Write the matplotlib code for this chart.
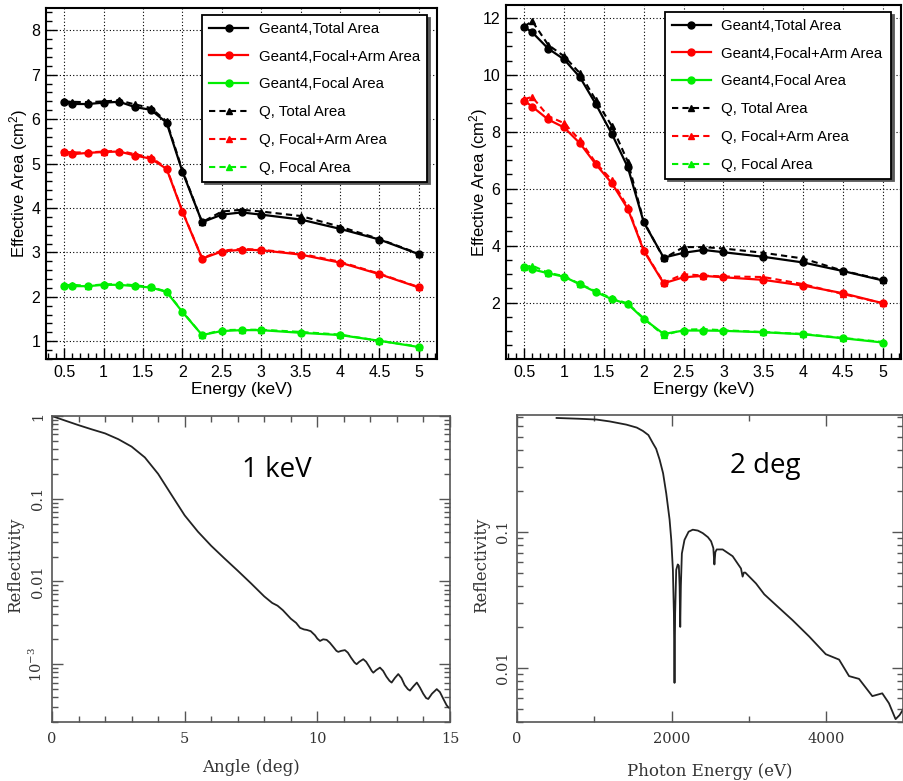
import numpy as np
import matplotlib
matplotlib.use("Agg")
import matplotlib.pyplot as plt
from matplotlib.ticker import MultipleLocator, LogLocator, NullFormatter

plt.rcParams['font.family'] = ['Liberation Sans', 'DejaVu Sans']
plt.rcParams['mathtext.default'] = 'regular'

# ---- effective area data (keV, cm^2) ----
energy = [0.5, 0.6, 0.8, 1.0, 1.2, 1.4, 1.6, 1.8, 2.0, 2.25, 2.5, 2.75, 3.0, 3.5, 4.0, 4.5, 5.0]

# left panel
tl_g4_total = [6.38, 6.34, 6.34, 6.37, 6.39, 6.27, 6.21, 5.92, 4.82, 3.68, 3.85, 3.90, 3.85, 3.74, 3.53, 3.29, 2.96]
tl_g4_arm = [5.25, 5.21, 5.24, 5.26, 5.27, 5.18, 5.11, 4.88, 3.92, 2.86, 3.02, 3.06, 3.05, 2.95, 2.77, 2.51, 2.21]
tl_g4_focal = [2.24, 2.24, 2.24, 2.27, 2.27, 2.24, 2.21, 2.11, 1.66, 1.14, 1.23, 1.25, 1.25, 1.19, 1.14, 1.01, 0.87]
tl_q_total = [6.40, 6.39, 6.38, 6.40, 6.42, 6.33, 6.25, 5.95, 4.85, 3.68, 3.92, 3.96, 3.92, 3.82, 3.58, 3.30, 2.97]
tl_q_arm = [5.27, 5.25, 5.25, 5.27, 5.29, 5.21, 5.14, 4.90, 3.93, 2.87, 3.04, 3.08, 3.06, 2.97, 2.79, 2.52, 2.22]
tl_q_focal = [2.26, 2.27, 2.25, 2.28, 2.29, 2.26, 2.22, 2.12, 1.67, 1.14, 1.25, 1.26, 1.26, 1.21, 1.15, 1.01, 0.88]

# right panel
tr_g4_total = [11.68, 11.49, 10.92, 10.54, 9.91, 8.96, 7.92, 6.75, 4.82, 3.58, 3.75, 3.85, 3.77, 3.61, 3.41, 3.11, 2.78]
tr_g4_arm = [9.09, 8.88, 8.43, 8.15, 7.59, 6.85, 6.19, 5.29, 3.82, 2.68, 2.89, 2.94, 2.89, 2.80, 2.60, 2.33, 1.98]
tr_g4_focal = [3.24, 3.17, 3.03, 2.91, 2.64, 2.37, 2.12, 1.95, 1.43, 0.90, 1.02, 1.02, 1.01, 0.96, 0.89, 0.75, 0.60]
tr_q_total = [11.70, 11.88, 11.05, 10.65, 10.05, 9.10, 8.20, 6.95, 4.85, 3.55, 3.95, 3.95, 3.90, 3.75, 3.55, 3.12, 2.80]
tr_q_arm = [9.15, 9.22, 8.55, 8.30, 7.70, 6.90, 6.30, 5.35, 3.85, 2.70, 3.00, 2.95, 2.92, 2.90, 2.65, 2.30, 1.98]
tr_q_focal = [3.25, 3.30, 3.05, 2.93, 2.65, 2.40, 2.15, 1.97, 1.45, 0.85, 1.05, 1.07, 1.03, 0.97, 0.90, 0.76, 0.62]

# ---- reflectivity at 1 keV vs angle ----
angle = [0, 0.5, 1, 1.5, 2, 2.5, 3, 3.5, 4, 4.5, 5, 5.5, 6, 6.5, 7, 7.5, 8, 8.3, 8.5, 8.7,
         9.0, 9.2, 9.35, 9.5, 9.6, 9.75, 9.91, 10.0, 10.1, 10.22, 10.35, 10.47, 10.6, 10.72,
         10.79, 10.9, 11.04, 11.15, 11.27, 11.4, 11.48, 11.58, 11.73, 11.84, 11.96, 12.05,
         12.11, 12.22, 12.36, 12.48, 12.6, 12.72, 12.8, 12.92, 13.05, 13.17, 13.29, 13.41,
         13.49, 13.62, 13.75, 13.87, 13.99, 14.1, 14.18, 14.32, 14.5, 14.62, 14.75, 14.87,
         14.94, 15.0]
refl_angle = [1.0, 0.88, 0.776, 0.69, 0.617, 0.525, 0.427, 0.316, 0.20, 0.112, 0.063, 0.040,
              0.027, 0.019, 0.0135, 0.0095, 0.0066, 0.0055, 0.0051, 0.0045,
              0.00355, 0.00316, 0.00275, 0.00263, 0.0026, 0.00251, 0.00224, 0.00204, 0.00191,
              0.00200, 0.00197, 0.00182, 0.00162, 0.00145,
              0.00141, 0.00145, 0.00148, 0.00138, 0.00120, 0.00105, 0.00100, 0.00107, 0.00115,
              0.00107, 0.00093, 0.00083,
              0.00079, 0.00085, 0.00091, 0.00083, 0.00071, 0.00063, 0.00060, 0.00068, 0.00076,
              0.00068, 0.00056, 0.00050,
              0.00048, 0.00054, 0.00060, 0.00052, 0.00044, 0.00039, 0.00038, 0.00044, 0.00050,
              0.00046, 0.00038, 0.00032,
              0.00030, 0.000295]

# ---- reflectivity at 2 deg vs photon energy ----
photon_ev = [512, 800, 1028, 1200, 1415, 1550, 1629, 1700, 1758, 1800, 1845, 1890, 1931, 1974,
             1996, 2017, 2030, 2038, 2046, 2060, 2080, 2094, 2104, 2112, 2120, 2133, 2167, 2220,
             2274, 2340, 2403, 2470, 2511, 2540, 2554, 2566, 2584, 2661, 2790, 2898, 2919, 2935,
             2954, 3092, 3199, 3393, 3565, 3780, 3995, 4167, 4296, 4425, 4597, 4726, 4812, 4898,
             4950, 5000]
refl_energy = [0.685, 0.676, 0.667, 0.646, 0.612, 0.582, 0.550, 0.513, 0.447, 0.407, 0.339,
               0.269, 0.191, 0.123, 0.0871, 0.0525, 0.0251, 0.00776, 0.0251, 0.0525, 0.0575,
               0.0562, 0.0398, 0.0200, 0.0398, 0.0692, 0.0871, 0.100, 0.1035, 0.102, 0.0977,
               0.0912, 0.0851, 0.0759, 0.0575, 0.0708, 0.0741, 0.0741, 0.0661, 0.0537, 0.0468,
               0.0501, 0.0501, 0.0417, 0.0347, 0.0275, 0.0224, 0.0170, 0.0126, 0.0115, 0.0087,
               0.0083, 0.0062, 0.0065, 0.0055, 0.0042, 0.0045, 0.0050]

names = ['Total Area', 'Focal+Arm Area', 'Focal Area']
colors = ['black', '#ff0000', '#00ee00']

fig = plt.figure(figsize=(9.04, 7.81), dpi=100)


def area_panel(ax, g4_sets, q_sets, ylim, ymajor, yminor, lab_x, legend_box):
    for vals, col, name in zip(g4_sets, colors, names):
        ax.plot(energy, vals, '-', color=col, lw=1.6, marker='o', ms=5, label='Geant4,' + name)
    for vals, col, name in zip(q_sets, colors, names):
        ax.plot(energy, vals, color=col, lw=1.5, ls=(0, (3, 2)), marker='^', ms=5,
                label='Q, ' + name)
    ax.set_xlim(0.27, 5.23)
    ax.set_ylim(*ylim)
    ax.xaxis.set_major_locator(MultipleLocator(0.5))
    ax.xaxis.set_minor_locator(MultipleLocator(0.1))
    ax.yaxis.set_major_locator(MultipleLocator(ymajor))
    ax.yaxis.set_minor_locator(MultipleLocator(yminor))
    ax.xaxis.set_major_formatter(lambda v, p: f'{v:g}')
    ax.tick_params(which='both', direction='in', labelsize=11.5, width=1)
    ax.tick_params(which='major', length=8, pad=4)
    ax.tick_params(which='minor', length=4)
    ax.grid(True, which='major', color='black', ls=(0, (1, 2)), lw=0.8)
    for s in ax.spines.values():
        s.set_linewidth(1.5)
    ax.set_xlabel('Energy (keV)', fontsize=12.5)
    ax.set_ylabel('Effective Area (cm$^{2}$)', fontsize=12)
    ax.xaxis.set_label_coords(0.5, -0.066)
    ax.yaxis.set_label_coords(lab_x, 0.5)
    leg = ax.legend(loc='upper left', bbox_to_anchor=legend_box, mode='expand',
                    borderaxespad=0, fontsize=10.8, frameon=True, fancybox=False,
                    edgecolor='black', framealpha=1, borderpad=0.45, labelspacing=0.92,
                    handlelength=2.6, handletextpad=0.7,
                    shadow={'ox': 2, 'oy': -2, 'facecolor': '0.35', 'edgecolor': '0.35', 'alpha': 1})
    leg.get_frame().set_linewidth(1.3)


ax1 = fig.add_axes([0.0509, 0.5403, 0.4325, 0.4494])
area_panel(ax1, [tl_g4_total, tl_g4_arm, tl_g4_focal], [tl_q_total, tl_q_arm, tl_q_focal],
           (0.6, 8.5), 1, 0.2, -0.042, (0.40, 0.496, 0.574, 0.484))

ax2 = fig.add_axes([0.5597, 0.5403, 0.437, 0.4533])
area_panel(ax2, [tr_g4_total, tr_g4_arm, tr_g4_focal], [tr_q_total, tr_q_arm, tr_q_focal],
           (0.02, 12.45), 2, 0.5, -0.041, (0.403, 0.494, 0.572, 0.486))
ax2.set_yticks([2, 4, 6, 8, 10, 12])


serif = ['DejaVu Serif']
ink = '#333333'


def refl_panel(ax, x, y, xlim, ylim, xmajor, xminor, yt, ytl, xlabel, note, note_xy):
    ax.semilogy(x, y, color='#222222', lw=1.3)
    ax.set_xlim(*xlim)
    ax.set_ylim(*ylim)
    ax.xaxis.set_major_locator(MultipleLocator(xmajor))
    ax.xaxis.set_minor_locator(MultipleLocator(xminor))
    ax.xaxis.set_major_formatter(lambda v, p: f'{v:g}')
    ax.set_yticks(yt, ytl)
    ax.yaxis.set_minor_locator(LogLocator(base=10, subs=np.arange(2, 10)))
    ax.yaxis.set_minor_formatter(NullFormatter())
    ax.tick_params(which='both', direction='in', top=True, right=True, color='#555555',
                   labelcolor=ink, labelsize=10.5, width=1)
    ax.tick_params(which='major', length=8)
    ax.tick_params(axis='x', which='major', pad=7)
    ax.tick_params(axis='y', which='major', pad=5)
    ax.tick_params(which='minor', length=4)
    ax.tick_params(axis='y', labelrotation=90)
    for lbl in ax.get_xticklabels() + ax.get_yticklabels():
        lbl.set_family(serif)
    for lbl in ax.get_yticklabels():
        lbl.set_va('center')
    for s in ax.spines.values():
        s.set_linewidth(1.2)
        s.set_color('#555555')
    ax.set_xlabel(xlabel, fontsize=12, family=serif, color=ink)
    ax.set_ylabel('Reflectivity', fontsize=12, family=serif, color=ink)
    ax.text(note_xy[0], note_xy[1], note, transform=ax.transAxes, fontsize=20,
            family=['Open Sans', 'DejaVu Sans'], ha='center', va='center', color='black')


ax3 = fig.add_axes([0.0575, 0.0755, 0.4403, 0.3918])
refl_panel(ax3, angle, refl_angle, (0, 15), (2e-4, 1), 5, 1,
           [1e-3, 1e-2, 1e-1, 1], ['10$^{-3}$', '0.01', '0.1', '1'],
           'Angle (deg)', '1 keV', (0.565, 0.825))
ax3.xaxis.set_label_coords(0.5, -0.122)
ax3.yaxis.set_label_coords(-0.070, 0.513)

ax4 = fig.add_axes([0.5719, 0.0755, 0.4275, 0.3931])
refl_panel(ax4, photon_ev, refl_energy, (0, 5000), (0.004, 0.72), 2000, 1000,
           [1e-2, 1e-1], ['0.01', '0.1'],
           'Photon Energy (eV)', '2 deg', (0.643, 0.835))
ax4.xaxis.set_label_coords(0.5, -0.132)
ax4.yaxis.set_label_coords(-0.069, 0.51)

fig.savefig('out.png', dpi=100)
